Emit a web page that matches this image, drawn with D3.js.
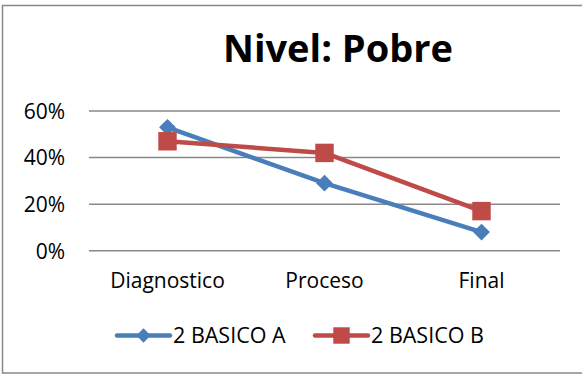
<!DOCTYPE html>
<html><head><meta charset="utf-8">
<script src="https://cdn.jsdelivr.net/npm/d3@7"></script>
<style>html,body{margin:0;padding:0;background:#fff;}svg{display:block;}</style>
</head><body>
<script>
const categories = ["Diagnostico", "Proceso", "Final"];
const seriesNames = ["2 BASICO A", "2 BASICO B"];
const basicoA = [0.53, 0.29, 0.08];
const basicoB = [0.47, 0.42, 0.17];
const yTicks = [0, 0.2, 0.4, 0.6];
const title = "Nivel: Pobre";

const W = 582, H = 375;
const font = "'Open Sans', 'Liberation Sans', sans-serif";
const colors = ["#4A7EBB", "#BE4B48"];
const svg = d3.select("body").append("svg").attr("width", W).attr("height", H);

// outer frame
svg.append("rect").attr("x", 2.5).attr("y", 5.5).attr("width", 590).attr("height", 367.5)
  .attr("fill", "none").attr("stroke", "#898989").attr("stroke-width", 1.5);

svg.append("text").attr("x", 338).attr("y", 62).attr("text-anchor", "middle")
  .attr("font-family", font).attr("font-weight", "bold").attr("font-size", 38).attr("fill", "#000")
  .text(title);

const x = d3.scaleBand().domain(categories).range([89, 560]);
const y = d3.scaleLinear().domain([0, 0.6]).range([250.7, 111]);

// gridlines
svg.append("g").selectAll("line").data(yTicks).join("line")
  .attr("x1", 89).attr("x2", 560).attr("y1", d => y(d)).attr("y2", d => y(d))
  .attr("stroke", "#888").attr("stroke-width", 1.5);

// y axis
const yAxis = d3.axisLeft(y).tickValues(yTicks).tickFormat(d3.format(".0%")).tickSize(0).tickPadding(0);
const gy = svg.append("g").attr("transform", "translate(65,0)").call(yAxis);
gy.select(".domain").remove();
gy.selectAll("text").attr("font-family", font).attr("font-size", 21).attr("fill", "#000").attr("dy", "0.35em");

// x axis
const xAxis = d3.axisBottom(x).tickSize(0).tickPadding(0);
const gx = svg.append("g").attr("transform", "translate(0,273)").call(xAxis);
gx.select(".domain").remove();
gx.selectAll("text").attr("font-family", font).attr("font-size", 21).attr("fill", "#000").attr("dy", "0.71em");

const cx = d => x(d) + x.bandwidth() / 2;
const line = d3.line().x(d => cx(d.c)).y(d => y(d.v));
const series = [basicoA, basicoB].map((vals, i) => vals.map((v, j) => ({c: categories[j], v})));

const diamond = d3.symbol().type(d3.symbolDiamond2).size(180);
const square = d3.symbol().type(d3.symbolSquare).size(340);

series.forEach((s, i) => {
  svg.append("path").datum(s).attr("d", line).attr("fill", "none")
    .attr("stroke", colors[i]).attr("stroke-width", 4.5).attr("stroke-linejoin", "round");
});
series.forEach((s, i) => {
  svg.append("g").selectAll("path").data(s).join("path")
    .attr("transform", d => `translate(${cx(d.c)},${y(d.v)})`)
    .attr("d", i === 0 ? diamond() : square())
    .attr("fill", colors[i]);
});

// legend
const legX = [117, 315];
seriesNames.forEach((name, i) => {
  const g = svg.append("g").attr("transform", `translate(${legX[i]},335.5)`);
  g.append("line").attr("x1", 0).attr("x2", 53).attr("y1", 0).attr("y2", 0)
    .attr("stroke", colors[i]).attr("stroke-width", 4.5).attr("stroke-linecap", "round");
  g.append("path").attr("transform", "translate(26.5,0)")
    .attr("d", i === 0 ? d3.symbol().type(d3.symbolDiamond2).size(130)() : d3.symbol().type(d3.symbolSquare).size(270)())
    .attr("fill", colors[i]);
  g.append("text").attr("x", 56).attr("y", 0).attr("dy", "0.35em")
    .attr("font-family", font).attr("font-size", 21.5).attr("fill", "#000").text(name);
});
</script>
</body></html>
